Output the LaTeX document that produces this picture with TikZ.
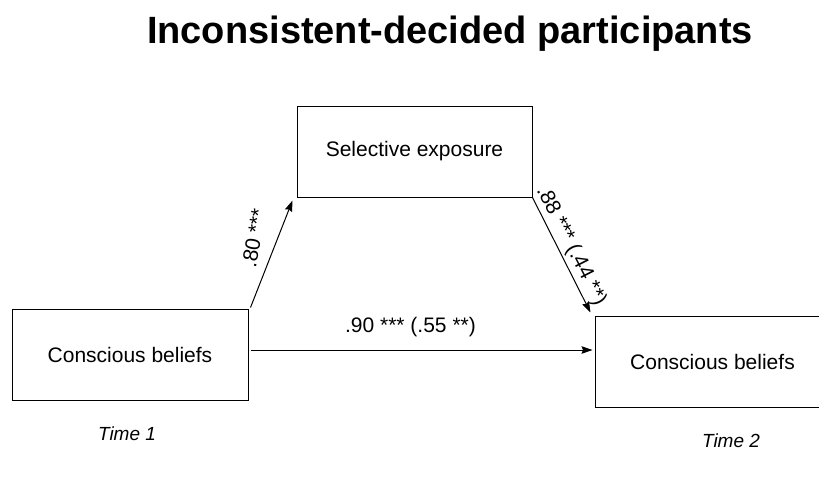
\documentclass[tikz,border=0pt]{standalone}
\usepackage{fontspec}
\setmainfont{Liberation Sans}
\usetikzlibrary{arrows.meta}
\begin{document}
\begin{tikzpicture}[x=1pt,y=-1pt,
  box/.style={draw=black, line width=1pt, minimum width=235pt, minimum height=91pt,
    inner sep=0pt, font=\fontsize{21}{25}\selectfont},
  link/.style={draw=black, line width=1pt, -{Stealth[length=11pt,width=7.5pt,inset=1.5pt]}},
  coef/.style={font=\fontsize{21}{25}\selectfont, inner sep=0pt},
  wave/.style={font=\fontsize{19}{23}\selectfont\itshape, inner sep=0pt, anchor=base},
  heading/.style={font=\fontsize{38}{45}\selectfont\bfseries, inner sep=0pt, anchor=base}
]
\useasboundingbox[fill=white] (0,0) rectangle (819,477);

% title
\node[heading] (title) at (450,43) {Inconsistent-decided participants};

% variables
\node[box] (se) at (414.5,151.5) {Selective exposure};
\node[box, minimum width=236pt] (cb1) at (130,354.5) {Conscious beliefs};
\node[box] (cb2) at (712.5,361.5) {Conscious beliefs};

% paths
\draw[link] ([xshift=2pt,yshift=1pt]cb1.north east) -- ([xshift=-4pt,yshift=-3pt]se.south west);
\draw[link] (se.south east) -- ([xshift=-4pt,yshift=3pt]cb2.north west);
\draw[link] ([xshift=2pt,yshift=4.5pt]cb1.east) -- ([xshift=-2pt,yshift=11.5pt]cb2.west);

% coefficients
\node[coef, rotate=80] (a) at (254,238) {.80 ***};
\node[coef, rotate=-63] (b) at (571,246) {.88 *** (.44 **)};
\node[coef, anchor=base] (c) at (410.5,332) {.90 *** (.55 **)};

% measurement waves
\node[wave] (t1) at (127,440) {Time 1};
\node[wave] (t2) at (731,447) {Time 2};
\end{tikzpicture}
\end{document}
